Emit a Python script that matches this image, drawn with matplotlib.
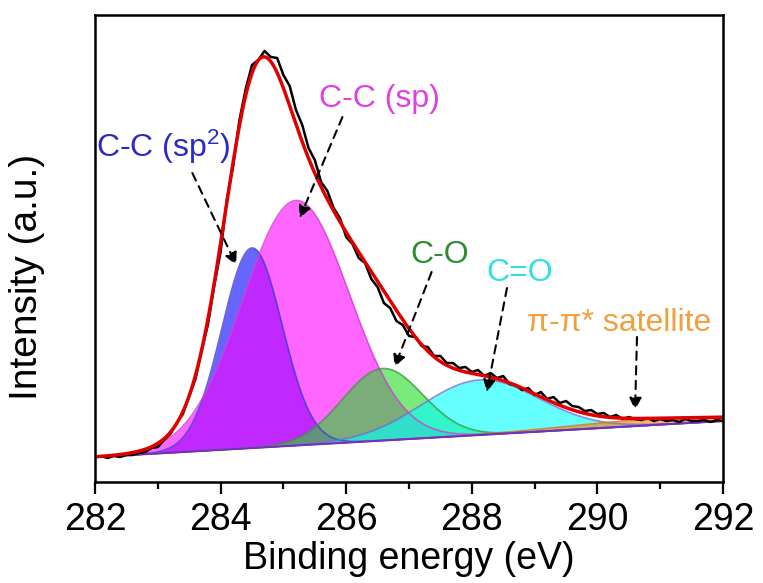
import numpy as np
import matplotlib
matplotlib.use('Agg')
import matplotlib.pyplot as plt

plt.rcParams['font.family'] = ['Liberation Sans', 'DejaVu Sans']
plt.rcParams['mathtext.fontset'] = 'custom'
plt.rcParams['mathtext.rm'] = 'Liberation Sans'
plt.rcParams['mathtext.it'] = 'Liberation Sans:italic'

# measured C1s spectrum, 0.1 eV steps from 282 to 292 eV
energy_start = 282.0
energy_step = 0.1
measured = [25, 26, 24, 26, 25, 27, 27, 29, 30, 34,
            35, 42, 48, 59, 68, 86, 103, 132, 158, 197,
            230, 283, 316, 362, 393, 417, 422, 431, 425, 424,
            407, 396, 372, 357, 334, 322, 300, 291, 274, 264,
            245, 238, 224, 219, 203, 195, 179, 174, 161, 157,
            146, 145, 136, 135, 126, 126, 119, 119, 114, 115,
            110, 112, 106, 109, 104, 106, 98, 97, 92, 94,
            87, 90, 83, 85, 79, 81, 76, 75, 71, 72,
            68, 69, 65, 67, 63, 65, 63, 62, 64, 61,
            63, 61, 62, 60, 63, 61, 61, 62, 60, 62,
            61]

# fitted components (Gaussian): centre (eV), height above background, FWHM (eV)
peak_names = ['C-C (sp$^2$)', 'C-C (sp)', 'C-O', 'C=O', 'π-π* satellite']
peak_centers = [284.5, 285.2, 286.58, 288.13, 290.8]
peak_heights = [200, 245, 72, 55, 6]
peak_fwhm = [1.13, 2.0, 1.5, 2.2, 3.0]

fill_colors = ['#0000ff', '#ff00ff', '#22dd22', '#00ffff', '#ff8000']
edge_colors = ['#4040d0', '#d040d0', '#3a9a3a', '#7070e0', '#e07010']
text_colors = ['#2a2ac8', '#e040e0', '#2e8b2e', '#30e0e0', '#f0a040']

x = energy_start + energy_step * np.arange(len(measured))
y = np.array(measured, dtype=float)

# linear background between the first and last data points
background = y[0] + (y[-1] - y[0]) * (x - x[0]) / (x[-1] - x[0])

xf = np.linspace(x[0], x[-1], 600)
bgf = np.interp(xf, x, background)

fig = plt.figure(figsize=(7.63, 5.83), dpi=100)
ax = fig.add_axes([0.1245, 0.1732, 0.8231, 0.8011])

envelope = bgf.copy()
for c, h, w, fc, ec in zip(peak_centers, peak_heights, peak_fwhm, fill_colors, edge_colors):
    comp = h * np.exp(-4 * np.log(2) * ((xf - c) / w) ** 2)
    envelope += comp
    ax.fill_between(xf, bgf, bgf + comp, color=fc, alpha=0.6, lw=0)
    ax.plot(xf, bgf + comp, color=ec, lw=1.2, alpha=0.8)

ax.plot(xf, bgf, color='#7030c0', lw=1.5)
ax.plot(x, y, color='black', lw=1.8)
ax.plot(xf, envelope, color='#e00000', lw=2.5)

# labels and dashed arrows
text_pos = [(283.09, 335), (286.53, 383), (287.49, 227), (288.76, 209), (290.34, 159)]
arrow_start = [(283.55, 309), (285.94, 365), (287.36, 210), (288.56, 194), (290.63, 145)]
arrow_end = [(284.25, 217), (285.26, 264), (286.77, 115), (288.24, 90), (290.60, 72)]

for name, tc, tp, s, e in zip(peak_names, text_colors, text_pos, arrow_start, arrow_end):
    ax.text(tp[0], tp[1], name, color=tc, fontsize=23, ha='center', va='center')
    ax.annotate('', xy=e, xytext=s,
                arrowprops=dict(arrowstyle='-|>', color='black', lw=1.5,
                                linestyle=(0, (4, 3)), mutation_scale=18,
                                shrinkA=0, shrinkB=0))

ax.set_xlim(282, 292)
ax.set_ylim(0, 467)
ax.set_xticks(np.arange(282, 293, 2))
ax.set_xticks(np.arange(283, 292, 2), minor=True)
ax.set_yticks([])
ax.tick_params(axis='x', which='major', direction='out', length=8.5, width=1.6,
               labelsize=27, pad=6)
ax.tick_params(axis='x', which='minor', direction='out', length=5, width=1.6)
for sp in ax.spines.values():
    sp.set_linewidth(1.8)

ax.set_xlabel('Binding energy (eV)', fontsize=27, labelpad=2)
ax.set_ylabel('Intensity (a.u.)', fontsize=28)
ax.yaxis.set_label_coords(-0.08, 0.44)

fig.savefig('out.png', dpi=100)
